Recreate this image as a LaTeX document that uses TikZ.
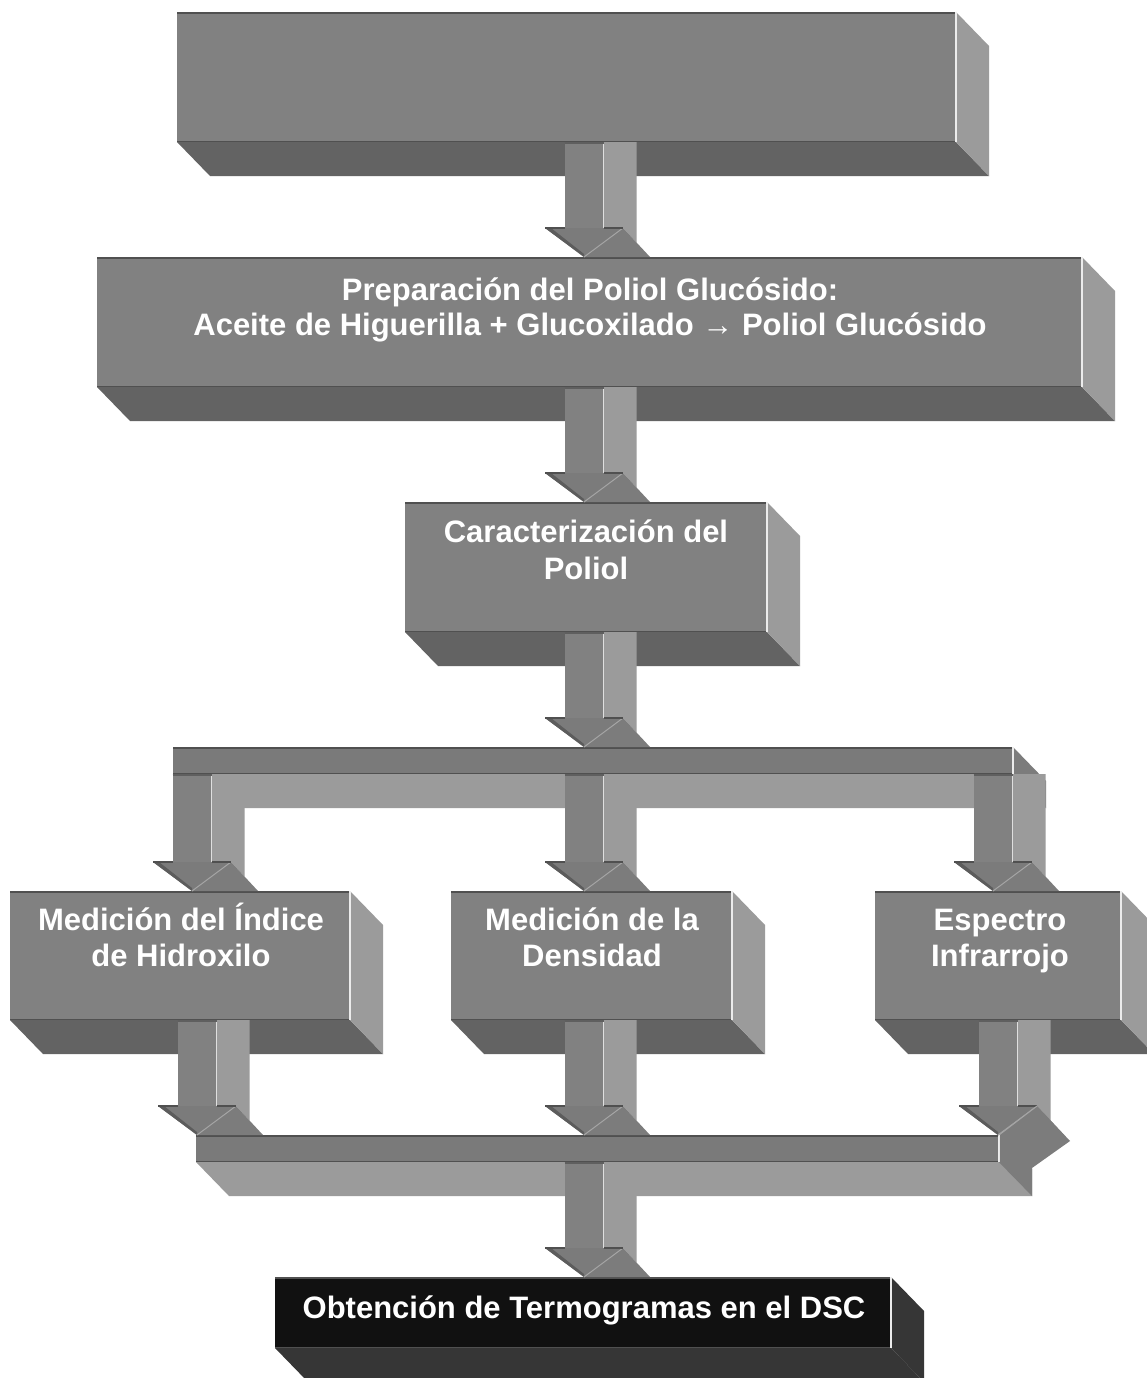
\documentclass[tikz,border=0pt]{standalone}
\usepackage{fontspec}
\setmainfont{Liberation Sans}
\usetikzlibrary{calc}
\definecolor{fg}{HTML}{818181}
\definecolor{botg}{HTML}{636363}
\definecolor{sideg}{HTML}{9B9B9B}
\definecolor{barg}{HTML}{7A7A7A}
\definecolor{headside}{HTML}{7C7C7C}
\definecolor{headfront}{HTML}{7B7B7B}
\definecolor{bevelg}{HTML}{5C5C5C}
\definecolor{headline}{HTML}{A5A5A5}
\definecolor{edgedark}{HTML}{505050}
\definecolor{blackfront}{HTML}{111111}
\definecolor{blackside}{HTML}{363636}

% #1 name, #2 x1, #3 y1, #4 x2, #5 y2, #6 front, #7 bottom face, #8 side face
\newcommand\solidbox[8]{%
  \node[inner sep=0pt,outer sep=0pt,fill=#6,minimum width={(#4-#2)*1pt},minimum height={(#5-#3)*1pt}] (#1) at ({(#2+#4)/2},{(#3+#5)/2}) {};
  \fill[#7] (#1.south west) -- (#1.south east) -- ++(33,34) -- ($(#1.south west)+(33,34)$) -- cycle;
  \fill[#8] (#1.north east) -- ++(33,34) -- ($(#1.south east)+(33,34)$) -- (#1.south east) -- cycle;
  \draw[line width=2pt,edgedark] ([yshift=-1pt]#1.north west) -- ([yshift=-1pt]#1.north east);
  \draw[line width=1.2pt,edgedark] ([yshift=0.6pt]#1.south west) -- ([yshift=0.6pt]#1.south east);
  \draw[line width=1.2pt,white!85!gray] (#1.north east) -- (#1.south east);
}
% #1 x of shaft centre, #2 source node, #3 target node
\newcommand\fatarrow[3]{%
  \fill[sideg] let \p1=(#2.south),\p2=(#3.north) in
    (#1pt+19.5pt,\y1) -- (#1pt+52.5pt,\y1) -- (#1pt+52.5pt,\y2+14.5pt) -- (#1pt+39pt,\y2+29pt) -- (#1pt+19.5pt,\y2+29pt) -- cycle;
  \fill[fg] let \p1=(#2.south),\p2=(#3.north) in
    (#1pt-19.5pt,\y1) rectangle (#1pt+19.5pt,\y2+29pt);
  \draw[line width=0.8pt,white!75!gray] let \p1=(#2.south),\p2=(#3.north) in
    (#1pt+19.5pt,\y1) -- (#1pt+19.5pt,\y2+29pt);
  \draw[line width=1.5pt,edgedark!70!fg] let \p1=(#2.south) in (#1pt-19.5pt,\y1-0.8pt) -- (#1pt+19.5pt,\y1-0.8pt);
  \fill[headside] let \p2=(#3.north) in (#1pt+39pt,\y2+29pt) -- (#1pt+66pt,\y2) -- (#1pt,\y2) -- cycle;
  \fill[headfront] let \p2=(#3.north) in (#1pt-39pt,\y2+29pt) -- (#1pt+39pt,\y2+29pt) -- (#1pt,\y2) -- cycle;
  \fill[bevelg] let \p2=(#3.north) in (#1pt-39pt,\y2+29pt) -- (#1pt-33pt,\y2+29pt) -- (#1pt,\y2+3pt) -- (#1pt,\y2) -- cycle;
  \draw[headline,line width=1pt] let \p2=(#3.north) in (#1pt,\y2) -- (#1pt+39pt,\y2+29pt);
  \draw[edgedark,line width=1.5pt] let \p2=(#3.north) in
    (#1pt-39pt,\y2+29pt) -- (#1pt-19.5pt,\y2+29pt) (#1pt+19.5pt,\y2+29pt) -- (#1pt+39pt,\y2+29pt);
}

\begin{document}
\begin{tikzpicture}[x=1pt,y=-1pt,
  lbl/.style={text=white,font=\bfseries\fontsize{31}{36}\selectfont,anchor=base,inner sep=0pt}]
\fill[white] (0,0) rectangle (1147,1378);
\useasboundingbox (0,0) rectangle (1147,1378);

% boxes and bars
\solidbox{B1}{177}{12}{956}{142}{fg}{botg}{sideg}
\solidbox{B2}{97}{257}{1082}{387}{fg}{botg}{sideg}
\solidbox{B3}{405}{502}{767}{632}{fg}{botg}{sideg}
\solidbox{bar1}{173}{747}{1013}{774}{barg}{sideg}{headside}
\solidbox{B4}{10}{891}{350}{1020}{fg}{botg}{sideg}
\solidbox{B5}{451}{891}{732}{1020}{fg}{botg}{sideg}
\solidbox{B6}{875}{891}{1121}{1020}{fg}{botg}{sideg}
\solidbox{bar2}{196}{1135}{999}{1162}{barg}{sideg}{headside}
\solidbox{B7}{275}{1277}{891}{1348}{blackfront}{blackside}{blackside}

% fat 3-D arrows
\fatarrow{584}{B1}{B2}
\fatarrow{584}{B2}{B3}
\fatarrow{584}{B3}{bar1}
\fatarrow{192}{bar1}{B4}
\fatarrow{584}{bar1}{B5}
\fatarrow{993}{bar1}{B6}
\fatarrow{197}{B4}{bar2}
\fatarrow{584}{B5}{bar2}
\fatarrow{998}{B6}{bar2}
\fill[headside] (bar2.north east) -- ++(38,-29) -- ++(33,35) -- ++(-38,27) -- ++(0,28) -- (bar2.south east) -- cycle;
\draw[headline,line width=1pt] (bar2.north east) -- ++(38,-29);
\draw[line width=1pt,white!80!gray] (bar2.north east) -- (bar2.south east);
\fatarrow{584}{bar2}{B7}

% labels
\node[lbl] (t2a) at (590,300) {Preparación del Poliol Glucósido:};
\node[lbl] (t2b) at (590,335) {Aceite de Higuerilla + Glucoxilado → Poliol Glucósido};
\node[lbl] (t3a) at (586,542) {Caracterización del};
\node[lbl] (t3b) at (586,579) {Poliol};
\node[lbl] (t4a) at (181,930) {Medición del Índice};
\node[lbl] (t4b) at (181,966) {de Hidroxilo};
\node[lbl] (t5a) at (592,930) {Medición de la};
\node[lbl] (t5b) at (592,966) {Densidad};
\node[lbl] (t6a) at (1000,930) {Espectro};
\node[lbl] (t6b) at (1000,966) {Infrarrojo};
\node[lbl] (t7) at (584,1318) {Obtención de Termogramas en el DSC};
\end{tikzpicture}
\end{document}
